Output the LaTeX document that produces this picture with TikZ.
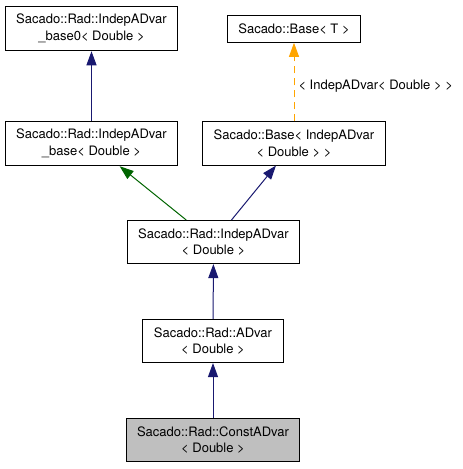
\documentclass[tikz,border=0pt]{standalone}
\usepackage{fontspec}
\setmainfont{TeX Gyre Heros}
\usetikzlibrary{arrows.meta}
\definecolor{midnightblue}{HTML}{191970}
\definecolor{darkgreen}{HTML}{006400}
\definecolor{dorange}{HTML}{FFA500}
\begin{document}
\begin{tikzpicture}[x=1pt,y=-1pt,>={Triangle[length=14pt,width=10pt]},
    cls/.style={draw,line width=1pt,fill=white,align=center,inner xsep=11pt,inner ysep=8pt,
      font=\fontsize{13}{16.5}\selectfont},
    lbl/.style={font=\fontsize{13}{16.5}\selectfont}]
      \useasboundingbox (0,0) rectangle (463,469);
      \node[cls] (base0) at (91.5,28.5) {Sacado::Rad::IndepADvar\\\_base0< Double >};
      \node[cls] (baseT) at (294,29) {Sacado::Base< T >};
      \node[cls] (base) at (91.5,143.5) {Sacado::Rad::IndepADvar\\\_base< Double >};
      \node[cls] (baseIndep) at (294,143.5) {Sacado::Base< IndepADvar\\< Double > >};
      \node[cls] (indep) at (213.5,242) {Sacado::Rad::IndepADvar\\< Double >};
      \node[cls] (advar) at (213,341) {Sacado::Rad::ADvar\\< Double >};
      \node[cls,fill={rgb,255:red,191;green,191;blue,191}] (const) at (213,440) {Sacado::Rad::ConstADvar\\< Double >};
      \draw[->,midnightblue,line width=1pt] (base) -- (base0);
      \draw[->,dorange,line width=1pt,dash pattern=on 7pt off 5pt] (baseIndep) -- (baseT)
        node[pos=0.45,right,black,lbl,inner xsep=4pt] {< IndepADvar< Double > >};
      \draw[->,darkgreen,line width=1pt] (indep) -- (base);
      \draw[->,midnightblue,line width=1pt] (indep) -- (baseIndep);
      \draw[->,midnightblue,line width=1pt] (advar) -- (indep);
      \draw[->,midnightblue,line width=1pt] (const) -- (advar);
\end{tikzpicture}
\end{document}
